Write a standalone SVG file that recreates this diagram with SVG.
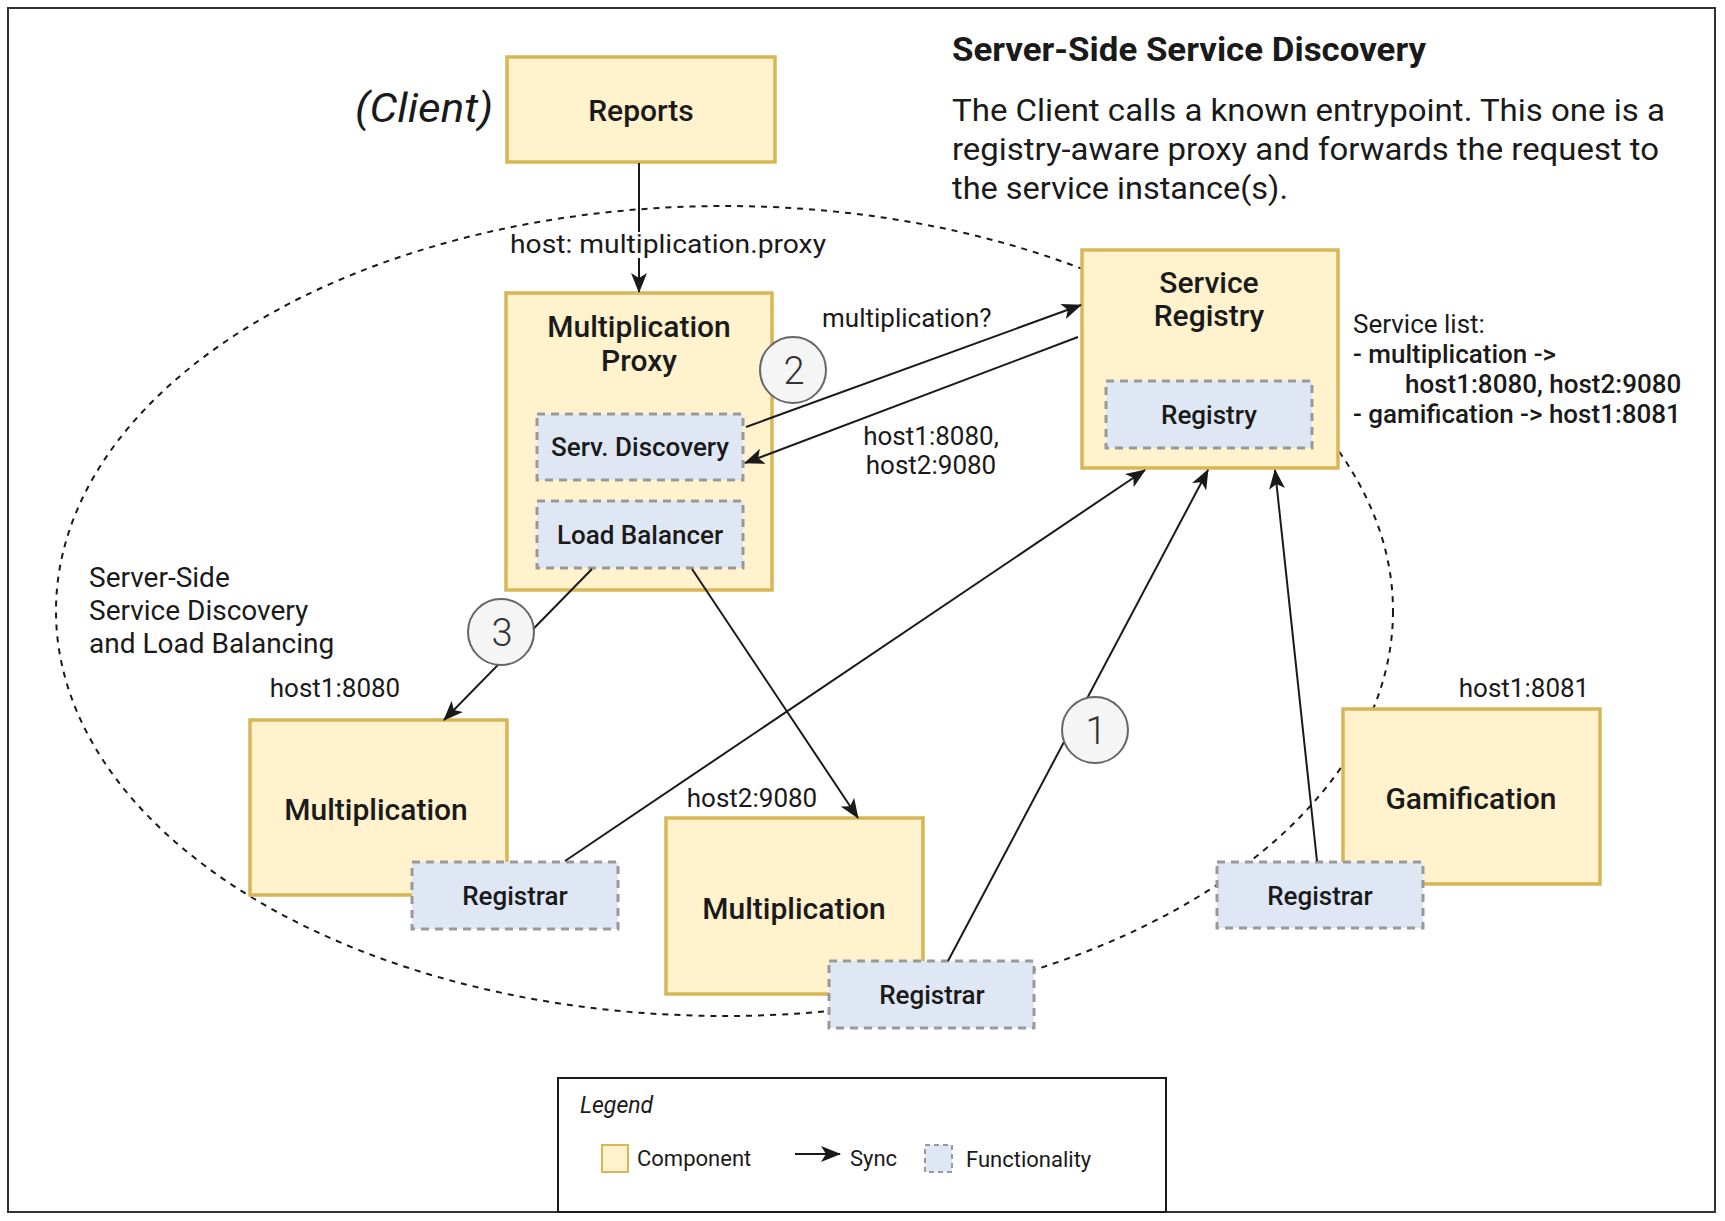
<svg xmlns="http://www.w3.org/2000/svg" width="1725" height="1221" viewBox="0 0 1725 1221">
<defs>
<style>
text{font-family:Roboto,"Liberation Sans",sans-serif;fill:#1a1a1a}
.comp{fill:#fff2cc;stroke:#d6b656;stroke-width:3.5}
.func{fill:#dfe7f4;stroke:#999999;stroke-width:3;stroke-dasharray:8 6}
.lbl{font-size:30px;font-weight:500;text-anchor:middle}
.flbl{font-size:26px;font-weight:500;text-anchor:middle}
.note{font-size:26px}
.edge{fill:none;stroke:#1a1a1a;stroke-width:2}
.step{fill:#f5f5f5;stroke:#666666;stroke-width:2}
.stepn{font-size:38px;font-weight:300;text-anchor:middle;fill:#333333}
</style>
<marker id="arr" viewBox="0 0 20 16" refX="19" refY="8" markerWidth="20" markerHeight="16" markerUnits="userSpaceOnUse" orient="auto">
<path d="M0,0 L20,8 L0,16 L5,8 z" fill="#1a1a1a"/>
</marker>
</defs>
<rect x="0" y="0" width="1725" height="1221" fill="#ffffff"/>
<rect x="8" y="8" width="1707" height="1204" fill="none" stroke="#333333" stroke-width="2"/>

<g id="boundary">
<ellipse cx="724.5" cy="611" rx="668.5" ry="405" fill="none" stroke="#1a1a1a" stroke-width="2" stroke-dasharray="6 6"/>
<text x="89" y="587" style="font-size:28px">Server-Side</text>
<text x="89" y="620" style="font-size:28px">Service Discovery</text>
<text x="89" y="653" style="font-size:28px">and Load Balancing</text>
</g>

<g id="title">
<text x="952" y="61" style="font-size:34px;font-weight:700" textLength="474" lengthAdjust="spacingAndGlyphs">Server-Side Service Discovery</text>
<text x="952" y="121" style="font-size:32px" textLength="713" lengthAdjust="spacingAndGlyphs">The Client calls a known entrypoint. This one is a</text>
<text x="952" y="160" style="font-size:32px" textLength="707" lengthAdjust="spacingAndGlyphs">registry-aware proxy and forwards the request to</text>
<text x="952" y="199" style="font-size:32px" textLength="336" lengthAdjust="spacingAndGlyphs">the service instance(s).</text>
</g>

<g id="reports">
<text x="355" y="122" style="font-size:40px;font-style:italic" textLength="138" lengthAdjust="spacingAndGlyphs">(Client)</text>
<rect class="comp" x="507" y="57" width="268" height="105"/>
<text class="lbl" x="641" y="121">Reports</text>
</g>

<g id="proxy">
<rect class="comp" x="506" y="293" width="266" height="297"/>
<text class="lbl" x="639" y="337">Multiplication</text>
<text class="lbl" x="639" y="371">Proxy</text>
</g>
<g id="serv-discovery">
<rect class="func" x="537" y="414" width="206" height="66"/>
<text class="flbl" x="640" y="456">Serv. Discovery</text>
</g>
<g id="load-balancer">
<rect class="func" x="537" y="501" width="206" height="67"/>
<text class="flbl" x="640" y="544">Load Balancer</text>
</g>

<g id="service-registry">
<rect class="comp" x="1082" y="250" width="256" height="218"/>
<text class="lbl" x="1209" y="293">Service</text>
<text class="lbl" x="1209" y="326">Registry</text>
</g>
<g id="registry">
<rect class="func" x="1106" y="381" width="206" height="67"/>
<text class="flbl" x="1209" y="424">Registry</text>
</g>
<g id="service-list">
<text class="note" x="1353" y="333">Service list:</text>
<text class="note" x="1353" y="363" style="font-weight:500">- multiplication -&gt;</text>
<text class="note" x="1405" y="393" style="font-weight:500">host1:8080, host2:9080</text>
<text class="note" x="1353" y="423" style="font-weight:500">- gamification -&gt; host1:8081</text>
</g>

<g id="multiplication1">
<text class="note" x="335" y="697" text-anchor="middle">host1:8080</text>
<rect class="comp" x="250" y="720" width="257" height="175"/>
<text class="lbl" x="376" y="820">Multiplication</text>
</g>
<g id="registrar1">
<rect class="func" x="412" y="862" width="206" height="67"/>
<text class="flbl" x="515" y="905">Registrar</text>
</g>

<g id="multiplication2">
<text class="note" x="752" y="807" text-anchor="middle">host2:9080</text>
<rect class="comp" x="666" y="818" width="257" height="176"/>
<text class="lbl" x="794" y="919">Multiplication</text>
</g>
<g id="registrar2">
<rect class="func" x="829" y="961" width="205" height="67"/>
<text class="flbl" x="932" y="1004">Registrar</text>
</g>

<g id="gamification">
<text class="note" x="1524" y="697" text-anchor="middle">host1:8081</text>
<rect class="comp" x="1343" y="709" width="257" height="175"/>
<text class="lbl" x="1471" y="809">Gamification</text>
</g>
<g id="registrar3">
<rect class="func" x="1217" y="862" width="206" height="66"/>
<text class="flbl" x="1320" y="905">Registrar</text>
</g>

<g id="connectors">
<line class="edge" x1="639" y1="163" x2="639" y2="292" marker-end="url(#arr)"/>
<rect x="508" y="232" width="320" height="26" fill="#ffffff"/>
<text class="note" x="510" y="253" textLength="316" lengthAdjust="spacingAndGlyphs">host: multiplication.proxy</text>
<line class="edge" x1="746" y1="427" x2="1081" y2="305" marker-end="url(#arr)"/>
<text class="note" x="822" y="327">multiplication?</text>
<line class="edge" x1="1078" y1="337" x2="745" y2="463" marker-end="url(#arr)"/>
<text class="note" x="931" y="445" text-anchor="middle">host1:8080,</text>
<text class="note" x="931" y="474" text-anchor="middle">host2:9080</text>
<line class="edge" x1="592" y1="569" x2="444" y2="720" marker-end="url(#arr)"/>
<line class="edge" x1="692" y1="569" x2="858" y2="818" marker-end="url(#arr)"/>
<line class="edge" x1="565" y1="861" x2="1145" y2="470" marker-end="url(#arr)"/>
<line class="edge" x1="948" y1="961" x2="1208" y2="470" marker-end="url(#arr)"/>
<line class="edge" x1="1317" y1="861" x2="1275" y2="470" marker-end="url(#arr)"/>
</g>

<g id="step2">
<circle class="step" cx="793" cy="370" r="33"/>
<text class="stepn" x="794" y="384">2</text>
</g>
<g id="step3">
<circle class="step" cx="501" cy="632" r="33"/>
<text class="stepn" x="502" y="646">3</text>
</g>
<g id="step1">
<circle class="step" cx="1095" cy="730" r="33"/>
<text class="stepn" x="1096" y="744">1</text>
</g>

<g id="legend">
<rect x="558" y="1078" width="608" height="134" fill="#ffffff" stroke="#1a1a1a" stroke-width="2"/>
<text x="580" y="1113" style="font-size:23px;font-style:italic">Legend</text>
<rect x="602" y="1145" width="26" height="27" fill="#fff2cc" stroke="#d6b656" stroke-width="2"/>
<text x="637" y="1166" style="font-size:22px">Component</text>
<line class="edge" x1="795" y1="1154" x2="840" y2="1154" marker-end="url(#arr)"/>
<text x="850" y="1166" style="font-size:22px">Sync</text>
<rect x="925" y="1145" width="27" height="27" fill="#dfe7f4" stroke="#999999" stroke-width="2" stroke-dasharray="5 4"/>
<text x="966" y="1167" style="font-size:22px">Functionality</text>
</g>
</svg>
